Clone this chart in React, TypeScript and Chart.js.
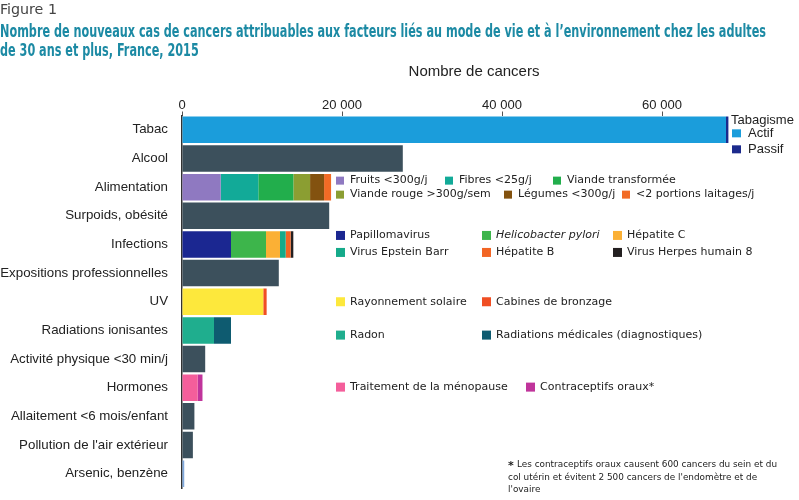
import { useEffect, useRef } from "react";
import { Chart, registerables } from "chart.js";
Chart.register(...registerables);

const categories = [
  "Tabac",
  "Alcool",
  "Alimentation",
  "Surpoids, obésité",
  "Infections",
  "Expositions professionnelles",
  "UV",
  "Radiations ionisantes",
  "Activité physique <30 min/j",
  "Hormones",
  "Allaitement <6 mois/enfant",
  "Pollution de l'air extérieur",
  "Arsenic, benzène",
];

const xTickValues = [0, 20000, 40000, 60000];

const singleRows = [
  "Alcool",
  "Surpoids, obésité",
  "Expositions professionnelles",
  "Activité physique <30 min/j",
  "Allaitement <6 mois/enfant",
  "Pollution de l'air extérieur",
  "Arsenic, benzène",
];
const singleValues = [27600, 18400, 12100, 2900, 1550, 1360, 280];

const tabacLabels = ["Actif", "Passif"];
const tabacValues = [68000, 300];

const alimLabels = [
  "Fruits <300g/j",
  "Fibres <25g/j",
  "Viande transformée",
  "Viande rouge >300g/sem",
  "Légumes <300g/j",
  "<2 portions laitages/j",
];
const alimValues = [4840, 4700, 4380, 2090, 1750, 875];

const infLabels = [
  "Papillomavirus",
  "Helicobacter pylori",
  "Hépatite C",
  "Virus Epstein Barr",
  "Hépatite B",
  "Virus Herpes humain 8",
];
const infValues = [6125, 4375, 1750, 710, 625, 330];

const uvLabels = ["Rayonnement solaire", "Cabines de bronzage"];
const uvValues = [10160, 420];

const radLabels = ["Radon", "Radiations médicales (diagnostiques)"];
const radValues = [4000, 2125];

const hormLabels = ["Traitement de la ménopause", "Contraceptifs oraux*"];
const hormValues = [1960, 600];

// styles
const SLATE = "#3c505c";
const ARSENIC = "#7fa8dc";
const tabacColors = ["#1b9ddb", "#1c2a8c"];
const alimColors = ["#8f79c1", "#12aa98", "#22ae4c", "#8b9e32", "#83520f", "#f26b25"];
const infColors = ["#1b2791", "#3db54b", "#fbb035", "#15aa8a", "#f26524", "#231f20"];
const uvColors = ["#fde83c", "#f04e23"];
const radColors = ["#1fae8e", "#0e5b70"];
const hormColors = ["#f45e9b", "#c0349b"];

const FONT_LABEL = '"Liberation Sans", Arial, sans-serif';
const FONT_LEG = '"DejaVu Sans", Verdana, sans-serif';
const FONT_TITLE = '"Liberation Sans Narrow", "DejaVu Sans Condensed", "Liberation Sans", sans-serif';

function rowData(row: string, v: number) {
  return categories.map((c) => (c === row ? v : null));
}

function groupDatasets(row: string, labels: string[], values: number[], colors: string[]) {
  return labels.map((l, i) => ({
    label: l,
    data: rowData(row, values[i]),
    backgroundColor: colors[i],
    borderWidth: 0,
    barPercentage: 0.925,
    categoryPercentage: 1,
  }));
}

const legendGroups = [
  { row: "Alimentation", labels: alimLabels, colors: alimColors, xs: [336, 445, 553, 336, 504, 622], dys: [-6.5, -6.5, -6.5, 7.5, 7.5, 7.5], sq: 8 },
  { row: "Infections", labels: infLabels, colors: infColors, xs: [336, 482, 613, 336, 482, 613], dys: [-9, -9, -9, 8, 8, 8], sq: 9 },
  { row: "UV", labels: uvLabels, colors: uvColors, xs: [336, 482], dys: [0, 0], sq: 9 },
  { row: "Radiations ionisantes", labels: radLabels, colors: radColors, xs: [336, 482], dys: [4.7, 4.7], sq: 9 },
  { row: "Hormones", labels: hormLabels, colors: hormColors, xs: [336, 526], dys: [-0.6, -0.6], sq: 9 },
];

function drawScaled(ctx: CanvasRenderingContext2D, text: string, x: number, y: number, s: number) {
  ctx.save();
  ctx.translate(x, y);
  ctx.scale(s, 1);
  ctx.fillText(text, 0, 0);
  ctx.restore();
}

const decorPlugin = {
  id: "decor",
  afterDraw(chart: any) {
    const ctx: CanvasRenderingContext2D = chart.ctx;
    const yScale = chart.scales.y;
    ctx.save();
    ctx.textBaseline = "alphabetic";
    ctx.textAlign = "left";

    // "Figure 1"
    ctx.fillStyle = "#444";
    ctx.font = `14px ${FONT_TITLE}`;
    let w = ctx.measureText("Figure 1").width;
    drawScaled(ctx, "Figure 1", 0, 13.5, 57 / w);

    // Title
    const t1 = "Nombre de nouveaux cas de cancers attribuables aux facteurs liés au mode de vie et à l’environnement chez les adultes";
    const t2 = "de 30 ans et plus, France, 2015";
    ctx.fillStyle = "#1c8aa4";
    ctx.font = `bold 17.5px ${FONT_TITLE}`;
    w = ctx.measureText(t1).width;
    const s = 766 / w;
    drawScaled(ctx, t1, 0, 36.5, s);
    drawScaled(ctx, t2, 0, 56, s);

    // axis title
    ctx.fillStyle = "#222";
    ctx.font = `15px ${FONT_LABEL}`;
    ctx.textAlign = "center";
    ctx.textBaseline = "middle";
    ctx.fillText("Nombre de cancers", 474, 72);

    // Tabagisme legend
    const yT = yScale.getPixelForValue(0);
    ctx.textAlign = "left";
    ctx.font = `13px ${FONT_LABEL}`;
    ctx.fillStyle = "#222";
    ctx.fillText("Tabagisme", 731, yT - 9.5);
    tabacLabels.forEach((l, i) => {
      const cy = yT + 3.5 + i * 16;
      ctx.fillStyle = tabacColors[i];
      ctx.fillRect(732, cy - 4, 9, 8);
      ctx.fillStyle = "#222";
      ctx.fillText(l, 748, cy);
    });

    // group legends
    legendGroups.forEach((g) => {
      const yc = yScale.getPixelForValue(categories.indexOf(g.row));
      g.labels.forEach((l, i) => {
        const cy = yc + g.dys[i];
        const x = g.xs[i];
        ctx.fillStyle = g.colors[i];
        ctx.fillRect(x, cy - g.sq / 2, g.sq, g.sq);
        ctx.fillStyle = "#222";
        ctx.font = (l === "Helicobacter pylori" ? "italic " : "") + `11px ${FONT_LEG}`;
        ctx.fillText(l, x + 14, cy);
      });
    });

    // footnote
    ctx.fillStyle = "#222";
    ctx.font = `bold 11px ${FONT_LEG}`;
    ctx.fillText("*", 508, 466);
    ctx.font = `8.5px ${FONT_LEG}`;
    const f1 = "Les contraceptifs oraux causent 600 cancers du sein et du";
    const fw = ctx.measureText(f1).width;
    const fs = 260 / fw;
    drawScaled(ctx, f1, 517, 465, fs);
    drawScaled(ctx, "col utérin et évitent 2 500 cancers de l'endomètre et de", 508, 478, fs);
    drawScaled(ctx, "l'ovaire", 508, 490, fs);
    ctx.restore();
  },
};

export default function App() {
  const ref = useRef<HTMLCanvasElement>(null);
  useEffect(() => {
    const singleData = categories.map((c) => {
      const i = singleRows.indexOf(c);
      return i >= 0 ? singleValues[i] : null;
    });
    const singleColors = categories.map((c) => (c === "Arsenic, benzène" ? ARSENIC : SLATE));
    const datasets: any[] = [
      ...groupDatasets("Tabac", tabacLabels, tabacValues, tabacColors),
      {
        label: "Total",
        data: singleData,
        backgroundColor: singleColors,
        borderWidth: 0,
        barPercentage: 0.925,
        categoryPercentage: 1,
      },
      ...groupDatasets("Alimentation", alimLabels, alimValues, alimColors),
      ...groupDatasets("Infections", infLabels, infValues, infColors),
      ...groupDatasets("UV", uvLabels, uvValues, uvColors),
      ...groupDatasets("Radiations ionisantes", radLabels, radValues, radColors),
      ...groupDatasets("Hormones", hormLabels, hormValues, hormColors),
    ];
    const chart = new Chart(ref.current!, {
      type: "bar",
      data: { labels: categories, datasets },
      options: {
        indexAxis: "y",
        responsive: false,
        animation: false,
        devicePixelRatio: 1,
        layout: { padding: { left: 0, right: 57, top: 0, bottom: 12 } },
        plugins: { legend: { display: false }, tooltip: { enabled: false } },
        scales: {
          x: {
            position: "top",
            stacked: true,
            min: 0,
            max: 70000,
            afterFit: (sc: any) => {
              sc.height = 115.5;
              sc.paddingLeft = 0;
              sc.paddingRight = 0;
            },
            afterBuildTicks: (sc: any) => {
              sc.ticks = xTickValues.map((v) => ({ value: v }));
            },
            ticks: {
              padding: -2,
              color: "#222",
              font: { family: FONT_LABEL, size: 13 },
              callback: (v: any) => Number(v).toLocaleString("fr-FR").replace(/\s/g, " "),
            },
            grid: { display: true, drawOnChartArea: false, drawTicks: true, tickLength: 4, color: "#555" },
            border: { display: false },
          },
          y: {
            stacked: true,
            z: 1,
            afterFit: (sc: any) => {
              sc.width = 182;
              sc.paddingTop = 0;
              sc.paddingBottom = 0;
            },
            ticks: {
              padding: 14,
              color: "#222",
              font: { family: FONT_LABEL, size: 13.3 },
            },
            grid: { display: false, drawTicks: false },
            border: { display: true, color: "#333", width: 1.5 },
          },
        },
      },
      plugins: [decorPlugin],
    });
    return () => chart.destroy();
  }, []);
  return (
    <div style={{ position: "absolute", left: 0, top: 0, width: 799, height: 500, background: "#fff" }}>
      <canvas ref={ref} width={799} height={500} style={{ display: "block", width: 799, height: 500 }} />
    </div>
  );
}
